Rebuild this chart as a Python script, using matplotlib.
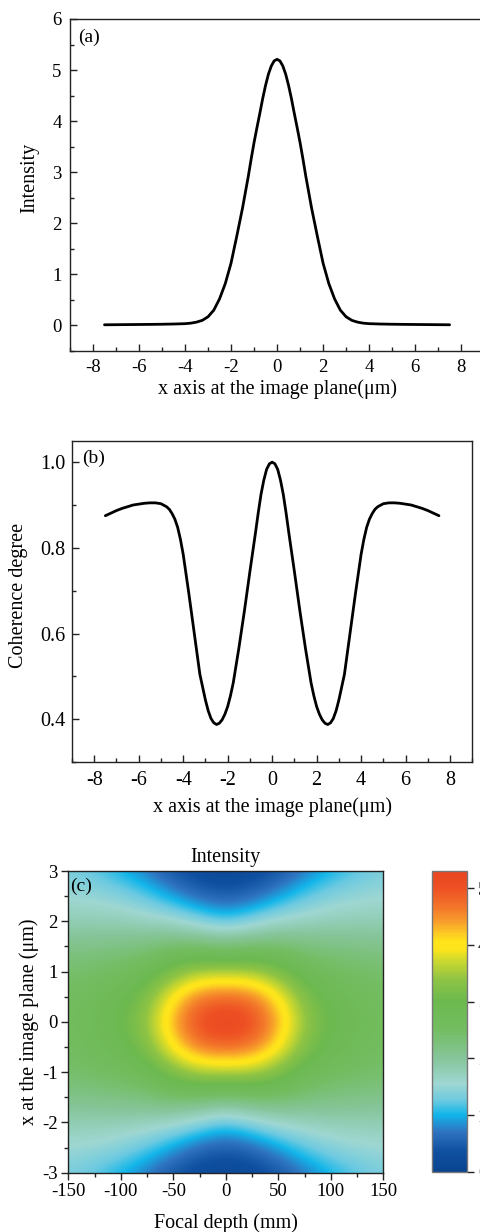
import numpy as np
import matplotlib
matplotlib.use("Agg")
import matplotlib.pyplot as plt
from matplotlib.colors import LinearSegmentedColormap, Normalize
from matplotlib.ticker import MultipleLocator, FormatStrFormatter

plt.rcParams["font.family"] = ["Liberation Serif", "DejaVu Serif"]
plt.rcParams["axes.unicode_minus"] = False

# ---------------------------------------------------------------- data
# (a) intensity across the image plane
x_a = [-7.5, -7.0, -6.5, -6.0, -5.5, -5.0, -4.5, -4.0, -3.75, -3.5, -3.25,
       -3.0, -2.75, -2.5, -2.25, -2.0, -1.75, -1.5, -1.375, -1.25, -1.125,
       -1.0, -0.875, -0.75, -0.625, -0.5, -0.375, -0.25, -0.125,
       0.0,
       0.125, 0.25, 0.375, 0.5, 0.625, 0.75, 0.875, 1.0, 1.125, 1.25, 1.375,
       1.5, 1.75, 2.0, 2.25, 2.5, 2.75, 3.0, 3.25, 3.5, 3.75, 4.0, 4.5, 5.0,
       5.5, 6.0, 6.5, 7.0, 7.5]
intensity_a = [0.013, 0.015, 0.017, 0.019, 0.021, 0.024, 0.028, 0.035, 0.045,
               0.065, 0.10, 0.17, 0.30, 0.52, 0.82, 1.22, 1.75, 2.30, 2.61,
               2.92, 3.26, 3.58, 3.87, 4.15, 4.44, 4.70, 4.92, 5.08, 5.18,
               5.21,
               5.18, 5.08, 4.92, 4.70, 4.44, 4.15, 3.87, 3.58, 3.26, 2.92,
               2.61, 2.30, 1.75, 1.22, 0.82, 0.52, 0.30, 0.17, 0.10, 0.065,
               0.045, 0.035, 0.028, 0.024, 0.021, 0.019, 0.017, 0.015, 0.013]

# (b) coherence degree across the image plane
x_b = [-7.5, -7.25, -7.0, -6.75, -6.5, -6.25, -6.0, -5.75, -5.5, -5.25, -5.0,
       -4.75, -4.625, -4.5, -4.375, -4.25, -4.125, -4.0, -3.75, -3.5, -3.25,
       -3.0, -2.875, -2.75, -2.625, -2.5, -2.375, -2.25, -2.125, -2.0, -1.875,
       -1.75, -1.5, -1.25, -1.0, -0.75, -0.625, -0.5, -0.375, -0.25, -0.125,
       0.0,
       0.125, 0.25, 0.375, 0.5, 0.625, 0.75, 1.0, 1.25, 1.5, 1.75, 1.875,
       2.0, 2.125, 2.25, 2.375, 2.5, 2.625, 2.75, 2.875, 3.0, 3.25, 3.5,
       3.75, 4.0, 4.125, 4.25, 4.375, 4.5, 4.625, 4.75, 5.0, 5.25, 5.5, 5.75,
       6.0, 6.25, 6.5, 6.75, 7.0, 7.25, 7.5]
coherence_b = [0.875, 0.881, 0.887, 0.892, 0.896, 0.900, 0.902, 0.904, 0.905,
               0.905, 0.903, 0.896, 0.890, 0.880, 0.867, 0.848, 0.820, 0.785,
               0.695, 0.600, 0.505, 0.445, 0.420, 0.402, 0.392, 0.388, 0.391,
               0.399, 0.412, 0.430, 0.455, 0.485, 0.565, 0.652, 0.745, 0.835,
               0.882, 0.925, 0.958, 0.983, 0.996,
               1.000,
               0.996, 0.983, 0.958, 0.925, 0.882, 0.835, 0.745, 0.652, 0.565,
               0.485, 0.455, 0.430, 0.412, 0.399, 0.391, 0.388, 0.392, 0.402,
               0.420, 0.445, 0.505, 0.600, 0.695, 0.785, 0.820, 0.848, 0.867,
               0.880, 0.890, 0.896, 0.903, 0.905, 0.905, 0.904, 0.902, 0.900,
               0.896, 0.892, 0.887, 0.881, 0.875]

# (c) intensity versus focal depth; one quadrant, the field is symmetric
# in both focal depth and x
focal_depth_mm = [0, 25, 50, 75, 100, 125, 150]
x_c = [0.0, 0.25, 0.5, 0.75, 1.0, 1.25, 1.5, 1.75, 2.0, 2.25, 2.5, 2.75, 3.0]
intensity_c = [
    [5.21, 5.02, 4.28, 3.38, 2.95, 2.74, 2.60],
    [5.08, 4.90, 4.19, 3.32, 2.91, 2.71, 2.57],
    [4.70, 4.57, 3.97, 3.21, 2.84, 2.67, 2.54],
    [4.15, 4.08, 3.63, 3.02, 2.72, 2.57, 2.47],
    [3.58, 3.56, 3.25, 2.78, 2.57, 2.47, 2.39],
    [2.92, 2.99, 2.85, 2.52, 2.39, 2.33, 2.28],
    [2.30, 2.43, 2.42, 2.27, 2.20, 2.17, 2.13],
    [1.75, 1.90, 2.01, 1.99, 2.00, 1.98, 1.96],
    [1.22, 1.42, 1.63, 1.71, 1.78, 1.80, 1.80],
    [0.82, 1.00, 1.26, 1.45, 1.58, 1.64, 1.66],
    [0.52, 0.65, 0.93, 1.21, 1.39, 1.49, 1.54],
    [0.30, 0.40, 0.65, 0.97, 1.20, 1.35, 1.44],
    [0.17, 0.24, 0.435, 0.75, 1.02, 1.22, 1.35],
]
colorbar_ticks = [0, 1, 2, 3, 4, 5]

# ---------------------------------------------------------------- style
LABEL_FS = 14.5
LETTER_FS = 14
SPINE_C = "#222222"

palette_stops = [0.0, 0.35, 0.7, 1.0, 1.25, 1.55, 2.0, 2.5, 3.0, 3.4, 3.75,
                 3.92, 4.05, 4.18, 4.4, 4.65, 5.0, 5.3]
palette_colors = ["#0a4490", "#0f50a0", "#2f74c0", "#12b6ea", "#6ccae0",
                  "#9fd7d2", "#86c59a", "#74bd62", "#6cb94f", "#8fc444",
                  "#d2da2c", "#fbe41c", "#ffe51b", "#fdcf22", "#f8a02b",
                  "#f3782a", "#ee5124", "#e9451f"]
VMAX = 5.3
cmap = LinearSegmentedColormap.from_list(
    "intensity", list(zip(np.array(palette_stops) / VMAX, palette_colors)))

fig = plt.figure(figsize=(4.81, 12.32), dpi=100)


def style_line_axes(ax, fs):
    for sp in ax.spines.values():
        sp.set_linewidth(1.0)
        sp.set_color(SPINE_C)
    ax.tick_params(which="both", direction="in", top=False, right=False,
                   labelsize=fs, width=1.0, color=SPINE_C)
    ax.tick_params(which="major", length=5, pad=6)
    ax.tick_params(which="minor", length=3)


# ---------------------------------------------------------------- (a)
ax_a = fig.add_axes([0.1455, 0.7151, 0.861, 0.2695])
ax_a.plot(x_a, intensity_a, color="black", lw=2.0, solid_joinstyle="round",
          solid_capstyle="round")
ax_a.set_xlim(-9, 9)
ax_a.set_ylim(-0.5, 6)
ax_a.xaxis.set_major_locator(MultipleLocator(2))
ax_a.xaxis.set_minor_locator(MultipleLocator(1))
ax_a.yaxis.set_major_locator(MultipleLocator(1))
ax_a.yaxis.set_minor_locator(MultipleLocator(0.5))
style_line_axes(ax_a, 13.5)
ax_a.set_xlabel("x axis at the image plane(μm)", fontsize=LABEL_FS)
ax_a.set_ylabel("Intensity", fontsize=LABEL_FS)
ax_a.xaxis.set_label_coords(0.5, -0.085)
ax_a.yaxis.set_label_coords(-0.073, 0.521)
ax_a.text(0.019, 0.970, "(a)", transform=ax_a.transAxes, fontsize=LETTER_FS,
          ha="left", va="top")

# ---------------------------------------------------------------- (b)
ax_b = fig.add_axes([0.1497, 0.3813, 0.8322, 0.2610])
ax_b.plot(x_b, coherence_b, color="black", lw=2.0, solid_joinstyle="round",
          solid_capstyle="round")
ax_b.set_xlim(-9, 9)
ax_b.set_ylim(0.3, 1.05)
ax_b.xaxis.set_major_locator(MultipleLocator(2))
ax_b.xaxis.set_minor_locator(MultipleLocator(1))
ax_b.yaxis.set_major_locator(MultipleLocator(0.2))
ax_b.yaxis.set_minor_locator(MultipleLocator(0.1))
ax_b.yaxis.set_major_formatter(FormatStrFormatter("%.1f"))
style_line_axes(ax_b, 14.5)
ax_b.tick_params(axis="y", which="major", pad=5)
ax_b.set_xlabel("x axis at the image plane(μm)", fontsize=LABEL_FS)
ax_b.set_ylabel("Coherence degree", fontsize=LABEL_FS)
ax_b.xaxis.set_label_coords(0.5, -0.11)
ax_b.yaxis.set_label_coords(-0.11, 0.52)
ax_b.text(0.025, 0.972, "(b)", transform=ax_b.transAxes, fontsize=LETTER_FS,
          ha="left", va="top")

# ---------------------------------------------------------------- (c)
quad = np.array(intensity_c)
z_step = focal_depth_mm[1] - focal_depth_mm[0]
x_step = x_c[1] - x_c[0]
rows = np.hstack([quad[:, :0:-1], quad])          # mirror in focal depth
field = np.vstack([rows[:0:-1], rows])            # mirror in x
z_max, x_max = focal_depth_mm[-1], x_c[-1]

ax_c = fig.add_axes([0.142, 0.0481, 0.6549, 0.2449])
norm = Normalize(vmin=0, vmax=VMAX)
im = ax_c.imshow(field, origin="lower", cmap=cmap, norm=norm, aspect="auto",
                 interpolation="bicubic", interpolation_stage="data",
                 extent=[-z_max - z_step / 2, z_max + z_step / 2,
                         -x_max - x_step / 2, x_max + x_step / 2])
ax_c.set_xlim(-150, 150)
ax_c.set_ylim(-3, 3)
ax_c.xaxis.set_major_locator(MultipleLocator(50))
ax_c.xaxis.set_minor_locator(MultipleLocator(25))
ax_c.yaxis.set_major_locator(MultipleLocator(1))
ax_c.yaxis.set_minor_locator(MultipleLocator(0.5))
for sp in ax_c.spines.values():
    sp.set_linewidth(1.0)
    sp.set_color(SPINE_C)
ax_c.tick_params(which="both", direction="out", top=False, right=False,
                 labelsize=13.5, width=1.0, color=SPINE_C)
ax_c.tick_params(which="major", length=5, pad=2.5)
ax_c.tick_params(which="minor", length=3)
ax_c.set_title("Intensity", fontsize=LABEL_FS, pad=6.5)
ax_c.set_xlabel("Focal depth (mm)", fontsize=LABEL_FS)
ax_c.set_ylabel("x at the image plane (μm)", fontsize=LABEL_FS)
ax_c.xaxis.set_label_coords(0.5, -0.134)
ax_c.yaxis.set_label_coords(-0.093, 0.5)
ax_c.text(0.007, 0.977, "(c)", transform=ax_c.transAxes, fontsize=LETTER_FS,
          ha="left", va="top")

cax = fig.add_axes([0.8975, 0.0489, 0.0728, 0.2441])
cb = fig.colorbar(im, cax=cax, ticks=colorbar_ticks)
cb.outline.set_edgecolor("#777777")
cb.outline.set_linewidth(1.0)
cax.tick_params(direction="out", length=5, width=1.0, color=SPINE_C,
                labelsize=13.5, pad=3)

fig.savefig("out.png", dpi=100)
